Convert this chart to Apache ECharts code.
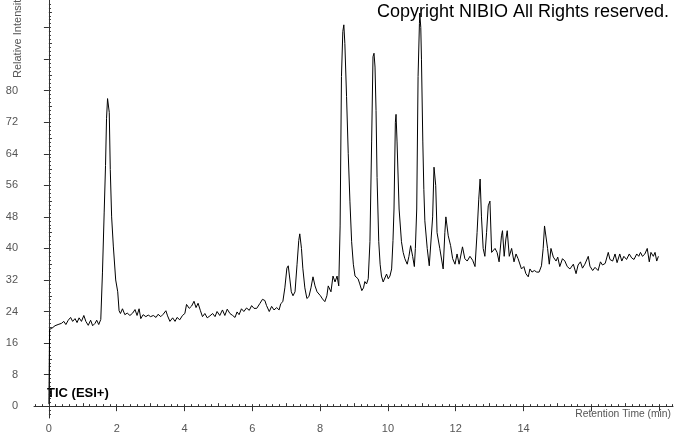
<!DOCTYPE html>
<html>
<head>
<meta charset="utf-8">
<script src="https://cdn.jsdelivr.net/npm/echarts@6/dist/echarts.min.js"></script>
<style>
  html, body { margin: 0; padding: 0; background: #fff; }
  #chart { width: 674px; height: 434px; }
</style>
</head>
<body>
<div id="chart"></div>
<script>
// retention time (min) and relative intensity
const rt = [
  0.00, 0.02, 0.08, 0.18, 0.27, 0.37, 0.44, 0.50, 0.57, 0.64, 0.70, 0.77, 0.83, 0.89, 0.96,
  1.03, 1.09, 1.16, 1.23, 1.29, 1.36, 1.41, 1.47, 1.53, 1.58, 1.63, 1.67, 1.70, 1.73, 1.75,
  1.78, 1.81, 1.85, 1.90, 1.97, 2.03, 2.07, 2.11, 2.17, 2.24, 2.31, 2.39, 2.47, 2.54, 2.60,
  2.66, 2.71, 2.78, 2.86, 2.93, 3.00, 3.08, 3.16, 3.22, 3.30, 3.37, 3.45, 3.50, 3.57, 3.65,
  3.72, 3.78, 3.86, 3.94, 4.01, 4.06, 4.14, 4.21, 4.28, 4.34, 4.40, 4.47, 4.53, 4.60, 4.67,
  4.75, 4.83, 4.90, 4.96, 5.04, 5.12, 5.19, 5.26, 5.34, 5.42, 5.49, 5.55, 5.61, 5.68, 5.75,
  5.83, 5.91, 5.98, 6.05, 6.13, 6.22, 6.30, 6.37, 6.42, 6.50, 6.57, 6.64, 6.72, 6.79, 6.84,
  6.90, 6.96, 7.02, 7.06, 7.11, 7.15, 7.20, 7.26, 7.32, 7.37, 7.40, 7.45, 7.49, 7.55, 7.61,
  7.67, 7.73, 7.79, 7.85, 7.91, 7.96, 8.01, 8.07, 8.14, 8.20, 8.24, 8.32, 8.38, 8.44, 8.50,
  8.55, 8.59, 8.63, 8.67, 8.70, 8.73, 8.78, 8.83, 8.88, 8.93, 8.98, 9.03, 9.07, 9.12, 9.17,
  9.23, 9.28, 9.32, 9.37, 9.42, 9.47, 9.52, 9.56, 9.59, 9.62, 9.65, 9.68, 9.73, 9.77, 9.81,
  9.86, 9.91, 9.96, 10.01, 10.06, 10.11, 10.15, 10.18, 10.22, 10.24, 10.27, 10.33, 10.40, 10.45, 10.50,
  10.57, 10.62, 10.67, 10.73, 10.78, 10.81, 10.85, 10.89, 10.93, 10.94, 10.97, 10.99, 11.03, 11.06, 11.09,
  11.16, 11.22, 11.27, 11.32, 11.36, 11.41, 11.45, 11.53, 11.63, 11.68, 11.71, 11.78, 11.85, 11.91, 11.98,
  12.04, 12.10, 12.20, 12.27, 12.34, 12.42, 12.50, 12.57, 12.63, 12.68, 12.72, 12.76, 12.81, 12.86, 12.91,
  12.96, 13.01, 13.06, 13.11, 13.16, 13.22, 13.28, 13.35, 13.38, 13.43, 13.48, 13.52, 13.58, 13.65, 13.72,
  13.78, 13.84, 13.94, 14.01, 14.07, 14.14, 14.19, 14.25, 14.32, 14.39, 14.46, 14.53, 14.58, 14.62, 14.67,
  14.71, 14.76, 14.81, 14.88, 14.96, 15.01, 15.07, 15.15, 15.22, 15.29, 15.37, 15.47, 15.55, 15.61, 15.68,
  15.74, 15.81, 15.91, 15.96, 16.04, 16.11, 16.20, 16.27, 16.33, 16.41, 16.50, 16.55, 16.63, 16.70, 16.76,
  16.84, 16.90, 16.96, 17.04, 17.12, 17.19, 17.26, 17.34, 17.40, 17.45, 17.51, 17.58, 17.65, 17.71, 17.76,
  17.83, 17.88, 17.93, 17.98
];
const intensity = [
  0.5, 19.5, 19.7, 20.4, 20.7, 21.0, 21.5, 20.7, 21.8, 22.5, 21.5, 22.2, 21.2, 22.4, 21.5,
  23.0, 21.5, 20.5, 21.8, 20.4, 21.0, 21.8, 20.7, 22.0, 34.0, 49.0, 61.0, 73.0, 78.0, 78.5,
  74.5, 60.0, 48.0, 40.6, 32.0, 29.0, 24.2, 23.5, 24.7, 23.2, 23.6, 23.0, 23.6, 24.5, 23.0,
  24.7, 22.2, 23.2, 22.7, 23.1, 22.7, 23.0, 22.5, 23.3, 22.7, 23.3, 24.2, 22.9, 21.5, 22.4,
  21.5, 22.5, 21.9, 23.0, 23.5, 25.8, 24.8, 25.4, 26.6, 25.0, 26.1, 24.2, 22.7, 23.5, 22.4,
  22.9, 23.5, 22.7, 24.0, 23.0, 24.4, 23.0, 24.6, 23.5, 23.0, 22.5, 23.9, 23.2, 24.7, 24.0,
  24.9, 24.3, 25.5, 24.8, 24.8, 26.0, 27.1, 26.8, 25.5, 24.0, 25.3, 24.4, 25.0, 24.4, 26.0,
  26.5, 30.0, 35.0, 35.6, 32.0, 29.0, 28.0, 29.0, 36.0, 42.0, 43.7, 40.0, 35.0, 30.0, 27.3,
  27.8, 30.0, 32.8, 30.5, 29.0, 29.3, 28.0, 27.2, 26.5, 28.0, 30.5, 29.0, 33.0, 31.5, 33.0,
  30.5, 45.7, 83.6, 95.0, 96.7, 92.0, 78.5, 64.0, 51.8, 41.7, 36.0, 33.0, 32.5, 32.3, 31.0,
  29.3, 30.0, 31.6, 31.0, 32.3, 41.7, 67.0, 88.6, 89.5, 86.0, 75.0, 58.0, 41.7, 36.0, 33.0,
  31.5, 31.6, 33.5, 32.3, 33.0, 34.8, 42.0, 50.0, 72.0, 74.0, 67.0, 50.0, 41.7, 39.0, 37.4,
  36.0, 38.0, 40.7, 38.0, 35.4, 40.0, 50.0, 83.6, 97.0, 99.7, 96.0, 88.0, 67.0, 55.0, 47.0,
  40.0, 35.6, 35.5, 48.0, 60.6, 56.0, 44.0, 40.0, 34.8, 44.0, 48.0, 43.2, 40.7, 37.4, 36.0,
  38.6, 36.0, 40.4, 37.4, 36.8, 38.0, 37.0, 35.4, 44.0, 52.5, 57.6, 48.0, 40.0, 38.0, 44.0,
  50.8, 52.0, 39.0, 39.5, 40.0, 39.0, 36.6, 43.2, 44.5, 38.0, 42.4, 44.5, 38.0, 40.0, 36.6,
  38.6, 37.4, 34.8, 35.4, 33.6, 32.8, 34.8, 34.0, 34.4, 34.0, 34.0, 35.6, 40.0, 45.7, 45.5,
  40.0, 36.0, 40.0, 37.8, 36.8, 37.8, 35.4, 37.4, 36.8, 35.4, 34.8, 36.0, 33.6, 35.8, 36.6,
  35.0, 36.0, 38.0, 35.5, 34.4, 35.2, 34.4, 36.6, 35.8, 36.2, 39.0, 37.2, 36.8, 38.6, 36.4,
  38.6, 36.8, 38.0, 37.2, 38.6, 37.6, 37.2, 38.6, 38.0, 39.0, 38.0, 38.6, 40.0, 36.6, 39.0,
  38.0, 39.0, 36.8, 38.0
];

// tick positions
const xMajor = [0, 2, 4, 6, 8, 10, 12, 14, 16, 18];
const xLabels = [0, 2, 4, 6, 8, 10, 12, 14];
const xMid = [1, 3, 5, 7, 9, 11, 13, 15, 17];
const xMinor = [];
for (let v = -4; v <= 184; v += 2) xMinor.push(v / 10);
const yMajor = [0, 8, 16, 24, 32, 40, 48, 56, 64, 72, 80, 88, 96];
const yLabels = [0, 8, 16, 24, 32, 40, 48, 56, 64, 72, 80];
const yMid = [4, 12, 20, 28, 36, 44, 52, 60, 68, 76, 84, 92, 100];
const yMinor = [];
for (let v = -2; v <= 102; v++) yMinor.push(v);

const axisColor = '#333';
const labelColor = '#555';
const font = 'Liberation Sans, Arial, sans-serif';

const chart = echarts.init(document.getElementById('chart'), null, { renderer: 'canvas' });

function tickAxis(base, values, len) {
  return Object.assign({}, base, {
    axisLine: { show: false },
    axisLabel: { show: false },
    splitLine: { show: false },
    axisTick: { show: true, customValues: values, length: len, lineStyle: { color: axisColor, width: 1 } }
  });
}

const xBase = { type: 'value', min: -0.44, max: 18.41, gridIndex: 0 };
const yBase = { type: 'value', min: -3, max: 103, gridIndex: 0 };

chart.setOption({
  animation: false,
  grid: { left: 34, right: 1, top: 0, bottom: 14 },
  xAxis: [
    Object.assign({}, xBase, {
      axisLine: { show: true, lineStyle: { color: axisColor, width: 1 } },
      axisTick: { show: true, customValues: xMajor, length: 5, lineStyle: { color: axisColor } },
      axisLabel: { customValues: xLabels, color: labelColor, fontSize: 11, fontFamily: font, margin: 5 },
      splitLine: { show: false },
      name: 'Retention Time (min)',
      nameLocation: 'end',
      nameGap: -2,
      nameTextStyle: { color: labelColor, fontSize: 10.3, fontFamily: font, align: 'right', verticalAlign: 'top', padding: [3, 0, 0, 0] }
    }),
    tickAxis(xBase, xMid, 3),
    tickAxis(xBase, xMinor, 2)
  ],
  yAxis: [
    Object.assign({}, yBase, {
      axisLine: { show: true, lineStyle: { color: axisColor, width: 1 } },
      axisTick: { show: true, customValues: yMajor, length: 5, lineStyle: { color: axisColor } },
      axisLabel: { customValues: yLabels, color: labelColor, fontSize: 11, fontFamily: font, margin: 16 },
      splitLine: { show: false }
    }),
    tickAxis(yBase, yMid, 3),
    tickAxis(yBase, yMinor, 2)
  ],
  graphic: [
    {
      type: 'text', left: 377, top: 3,
      style: { text: 'Copyright NIBIO All Rights reserved.', font: '18px ' + font, fill: '#000' }
    },
    {
      type: 'text', left: 47, top: 387,
      style: { text: 'TIC (ESI+)', font: 'bold 13px ' + font, fill: '#000' }
    },
    {
      type: 'text', x: 18, y: 78, rotation: Math.PI / 2,
      style: { text: 'Relative Intensity', font: '11px ' + font, fill: labelColor, align: 'left', verticalAlign: 'middle' }
    }
  ],
  series: [
    {
      type: 'line',
      xAxisIndex: 0,
      yAxisIndex: 0,
      data: rt.map((t, i) => [t, intensity[i]]),
      showSymbol: false,
      lineStyle: { color: '#000', width: 1 },
      silent: true
    }
  ]
});
</script>
</body>
</html>
